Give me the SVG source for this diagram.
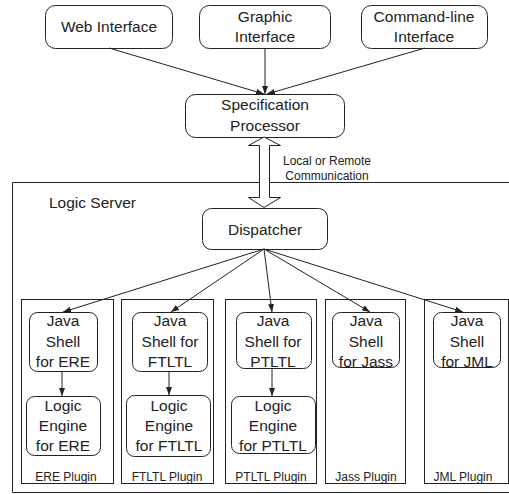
<svg xmlns="http://www.w3.org/2000/svg" width="509" height="494" viewBox="0 0 509 494">
<style>
.b{fill:#fff;stroke:#222;stroke-width:1}
.p{fill:none;stroke:#222;stroke-width:1}
.t{font-family:"Liberation Sans",Arial,sans-serif;font-size:15.5px;fill:#222;text-anchor:middle}
.s{font-family:"Liberation Sans",Arial,sans-serif;font-size:12px;fill:#222;text-anchor:middle}
.c{stroke:#222;stroke-width:1;fill:none;marker-end:url(#ah)}
</style>
<defs>
<marker id="ah" markerWidth="8" markerHeight="6" refX="8" refY="3" orient="auto" markerUnits="userSpaceOnUse">
<path d="M0,0 L8,3 L0,6 Z" fill="#222"/>
</marker>
</defs>
<rect width="509" height="494" fill="#fff"/>
<g id="logic-server">
<path class="p" d="M520,182.5 H12.5 V492.5 H520"/>
<text class="t" x="49" y="208" text-anchor="start" style="text-anchor:start">Logic Server</text>
</g>
<g id="web-interface"><rect class="b" x="45.5" y="5.5" width="127" height="43" rx="10"/><text class="t" x="109" y="32">Web Interface</text></g>
<g id="graphic-interface"><rect class="b" x="199.5" y="5.5" width="131" height="43" rx="10"/><text class="t" x="265" y="22">Graphic</text><text class="t" x="265" y="42">Interface</text></g>
<g id="command-line-interface"><rect class="b" x="361.5" y="5.5" width="126" height="43" rx="10"/><text class="t" x="424" y="22">Command-line</text><text class="t" x="424" y="42">Interface</text></g>
<g id="specification-processor"><rect class="b" x="185.5" y="94.5" width="159" height="43" rx="10"/><text class="t" x="265" y="110">Specification</text><text class="t" x="265" y="131">Processor</text></g>
<g id="comm-label"><text class="s" x="327" y="165">Local or Remote</text><text class="s" x="327" y="180">Communication</text></g>
<g id="dispatcher"><rect class="b" x="202.5" y="208.5" width="125" height="41" rx="9"/><text class="t" x="265" y="235">Dispatcher</text></g>
<g id="ere-plugin"><rect class="b" x="21.5" y="299.5" width="92" height="184"/><text class="s" x="66" y="481">ERE Plugin</text></g>
<g id="ftltl-plugin"><rect class="b" x="121.5" y="299.5" width="92" height="184"/><text class="s" x="167" y="481">FTLTL Plugin</text></g>
<g id="ptltl-plugin"><rect class="b" x="225.5" y="299.5" width="91" height="184"/><text class="s" x="271" y="481">PTLTL Plugin</text></g>
<g id="jass-plugin"><rect class="b" x="325.5" y="299.5" width="80" height="184"/><text class="s" x="366" y="481">Jass Plugin</text></g>
<g id="jml-plugin"><rect class="b" x="424.5" y="299.5" width="84" height="184"/><text class="s" x="463" y="481">JML Plugin</text></g>
<g id="shell-ere"><rect class="b" x="29.5" y="312.5" width="68" height="59" rx="8"/><text class="t" x="63" y="326">Java</text><text class="t" x="63" y="347">Shell</text><text class="t" x="63" y="367">for ERE</text></g>
<g id="shell-ftltl"><rect class="b" x="132.5" y="312.5" width="75" height="59" rx="8"/><text class="t" x="170" y="326">Java</text><text class="t" x="170" y="347">Shell for</text><text class="t" x="170" y="367">FTLTL</text></g>
<g id="shell-ptltl"><rect class="b" x="236.5" y="312.5" width="75" height="56" rx="8"/><text class="t" x="273" y="326">Java</text><text class="t" x="273" y="347">Shell for</text><text class="t" x="273" y="367">PTLTL</text></g>
<g id="shell-jass"><rect class="b" x="332.5" y="312.5" width="67" height="55" rx="8"/><text class="t" x="366" y="326">Java</text><text class="t" x="366" y="347">Shell</text><text class="t" x="366" y="367">for Jass</text></g>
<g id="shell-jml"><rect class="b" x="433.5" y="312.5" width="67" height="55" rx="8"/><text class="t" x="467" y="326">Java</text><text class="t" x="467" y="347">Shell</text><text class="t" x="467" y="367">for JML</text></g>
<g id="engine-ere"><rect class="b" x="26.5" y="396.5" width="74" height="59" rx="8"/><text class="t" x="63" y="411">Logic</text><text class="t" x="63" y="431">Engine</text><text class="t" x="63" y="451">for ERE</text></g>
<g id="engine-ftltl"><rect class="b" x="126.5" y="395.5" width="84" height="61" rx="8"/><text class="t" x="169" y="411">Logic</text><text class="t" x="169" y="431">Engine</text><text class="t" x="169" y="451">for FTLTL</text></g>
<g id="engine-ptltl"><rect class="b" x="231.5" y="396.5" width="84" height="57" rx="8"/><text class="t" x="273" y="411">Logic</text><text class="t" x="273" y="431">Engine</text><text class="t" x="273" y="451">for PTLTL</text></g>
<g id="connectors">
<line class="c" x1="109" y1="48" x2="264" y2="94"/>
<line class="c" x1="265" y1="48" x2="265" y2="94"/>
<line class="c" x1="425" y1="48" x2="267" y2="94"/>
<path class="b" d="M264,137 L280.5,145.5 L269.5,145.5 L269.5,197.5 L280.5,197.5 L264,207.5 L248.5,197.5 L259.5,197.5 L259.5,145.5 L248.5,145.5 Z"/>
<line class="c" x1="264" y1="249" x2="63" y2="312"/>
<line class="c" x1="264" y1="249" x2="171" y2="312"/>
<line class="c" x1="264" y1="249" x2="272" y2="312"/>
<line class="c" x1="264" y1="249" x2="370" y2="312"/>
<line class="c" x1="264" y1="249" x2="463" y2="312"/>
<line class="c" x1="62" y1="371" x2="62" y2="396"/>
<line class="c" x1="169" y1="371" x2="169" y2="395"/>
<line class="c" x1="272" y1="368" x2="272" y2="396"/>
</g>
</svg>
